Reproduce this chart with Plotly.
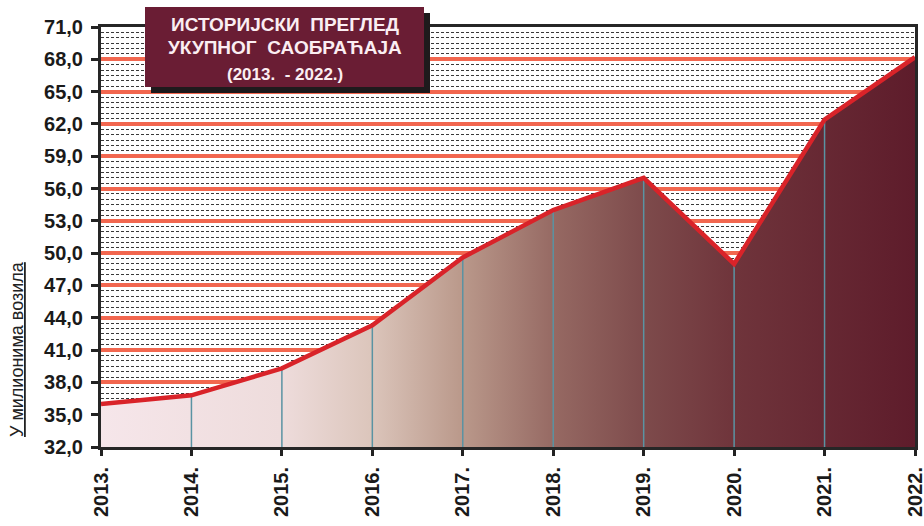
import plotly.graph_objects as go

years = [2013, 2014, 2015, 2016, 2017, 2018, 2019, 2020, 2021, 2022]
year_labels = ["2013.", "2014.", "2015.", "2016.", "2017.", "2018.", "2019.", "2020.", "2021.", "2022."]
traffic = [36.0, 36.8, 39.3, 43.3, 49.6, 54.0, 57.0, 49.0, 62.4, 68.2]
y_ticks = [32, 35, 38, 41, 44, 47, 50, 53, 56, 59, 62, 65, 68, 71]

title_lines = ["ИСТОРИЈСКИ  ПРЕГЛЕД", "УКУПНОГ  САОБРАЋАЈА", "(2013.  - 2022.)"]
y_title = "У милионима возила"

FONT = "Arial, Liberation Sans, sans-serif"

L, R, T, B = 101, 9, 27, 79
W, H = 924.0 - L - R, 526.0 - T - B

fig = go.Figure()

# gradient area
fig.add_trace(go.Scatter(
    x=years, y=traffic, mode="none", fill="tozeroy",
    fillgradient=dict(type="horizontal", colorscale=[
        [0.0, "#f6e6ea"], [0.22, "#eedcdc"], [0.33, "#dcc6bc"], [0.44, "#bb9a8c"],
        [0.56, "#956862"], [0.67, "#7d4a4b"], [0.78, "#6f343b"], [1.0, "#5e1c2b"]]),
    hoverinfo="skip", showlegend=False))

# drop lines
dx, dy = [], []
for xv, yv in zip(years[1:-1], traffic[1:-1]):
    dx += [xv, xv, None]
    dy += [32, yv, None]
fig.add_trace(go.Scatter(x=dx, y=dy, mode="lines",
                         line=dict(color="#5a93a3", width=1.5),
                         hoverinfo="skip", showlegend=False))

# red line
fig.add_trace(go.Scatter(x=years, y=traffic, mode="lines",
                         line=dict(color="#d92329", width=4.5),
                         showlegend=False))

fig.update_layout(
    width=924, height=526,
    margin=dict(l=L, r=R, t=T, b=B),
    paper_bgcolor="white", plot_bgcolor="white",
    separators=",.",
    font=dict(family=FONT, color="#1a1a1a"),
    xaxis=dict(range=[2013, 2022], tickmode="array", tickvals=years, ticktext=year_labels,
               tickangle=-90, tickfont=dict(size=20, family=FONT, weight="bold", color="#1a1a1a"),
               ticks="outside", ticklen=6, tickwidth=2.5, tickcolor="#222",
               showline=True, linecolor="#262626", linewidth=3, mirror=True,
               showgrid=False, zeroline=False, automargin=False, ticklabelstandoff=3,
               ticklabeloverflow="allow"),
    yaxis=dict(range=[32, 71], tickmode="array", tickvals=y_ticks, tickformat=".1f",
               tickfont=dict(size=20, family=FONT, weight="bold", color="#1a1a1a"),
               ticks="outside", ticklen=7, tickwidth=2.5, tickcolor="#222",
               showline=True, linecolor="#262626", linewidth=3, mirror=True,
               showgrid=True, gridcolor="#f2674f", gridwidth=3.5,
               minor=dict(dtick=0.5, showgrid=True, gridcolor="#3a3a3a", gridwidth=1, griddash="3px,2px"),
               zeroline=False, automargin=False, ticklabelstandoff=4),
)

# title box with shadow
def px(x):
    return (x - L) / W
def py(y):
    return (526 - B - y) / H

fig.add_shape(type="rect", xref="paper", yref="paper", layer="above",
              x0=px(151), x1=px(430), y0=py(93), y1=py(13),
              fillcolor="#1e1a1c", line=dict(width=0))
fig.add_shape(type="rect", xref="paper", yref="paper", layer="above",
              x0=px(145), x1=px(424), y0=py(87), y1=py(7),
              fillcolor="#6a1d34", line=dict(width=0))

for text, yc, size in zip(title_lines, [24, 47, 74], [19, 19, 17]):
    fig.add_annotation(xref="paper", yref="paper", x=px(285), y=py(yc),
                       text=text, showarrow=False, xanchor="center", yanchor="middle",
                       font=dict(family=FONT, size=size, color="#fbeef2", weight="bold"))

fig.add_annotation(xref="paper", yref="paper", x=px(17), y=py(349),
                   text=y_title, showarrow=False, textangle=-90,
                   xanchor="center", yanchor="middle",
                   font=dict(family=FONT, size=18, color="#222", lineposition="under"))

fig.write_html("out.html", config={"displayModeBar": False},
               post_script="document.body.style.margin='0';")
